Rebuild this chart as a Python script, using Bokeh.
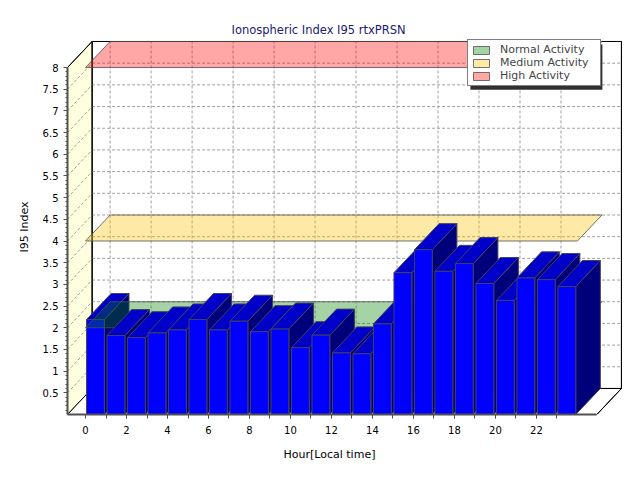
from bokeh.plotting import figure
from bokeh.models import Range1d, FixedTicker, Legend, LegendItem, ColumnDataSource, Title
from bokeh.embed import file_html
from bokeh.resources import INLINE

# ---------------- data ----------------
hours = list(range(24))
i95 = [2.19, 1.82, 1.77, 1.88, 1.95, 2.19, 1.95, 2.15, 1.91, 1.97, 1.54, 1.83,
       1.42, 1.40, 2.09, 3.27, 3.80, 3.30, 3.48, 3.02, 2.63, 3.15, 3.11, 2.95]
level_values = [2.0, 4.0, 8.0]
level_names = ["Normal Activity", "Medium Activity", "High Activity"]
level_colors = ["#008000", "#FFC000", "#FF0000"]
y_ticks = [0.5, 1, 1.5, 2, 2.5, 3, 3.5, 4, 4.5, 5, 5.5, 6, 6.5, 7, 7.5, 8]
y_tick_labels = ["0.5", "1", "1.5", "2", "2.5", "3", "3.5", "4", "4.5", "5",
                 "5.5", "6", "6.5", "7", "7.5", "8"]
x_ticks = [0, 2, 4, 6, 8, 10, 12, 14, 16, 18, 20, 22]
x_tick_labels = ["0", "2", "4", "6", "8", "10", "12", "14", "16", "18", "20", "22"]
title_text = "Ionospheric Index I95 rtxPRSN"
x_title = "Hour[Local time]"
y_title = "I95 Index"

# ---------------- geometry of the pseudo 3D box ----------------
X_MIN, X_MAX = -0.88, 24.95
Y_MAX = 8.0
DX, DY = 1.2, 0.6
PADX, PADY = 0.1, 0.046
B0, B1 = 0.05, 0.92
FONT = "DejaVu Sans"

p = figure(width=624, height=476, output_backend="svg", toolbar_location=None,
           title=None, x_range=Range1d(X_MIN, X_MAX + DX + PADX), y_range=Range1d(0, Y_MAX + DY + PADY),
           min_border_left=67, min_border_right=1, min_border_top=39, min_border_bottom=62)
p.outline_line_color = None
p.xgrid.visible = False
p.ygrid.visible = False
p.background_fill_color = "white"
p.border_fill_color = "white"

# walls
p.patches(xs=[[X_MIN + DX, X_MAX + DX, X_MAX + DX, X_MIN + DX]],
          ys=[[DY, DY, Y_MAX + DY, Y_MAX + DY]],
          fill_color="white", line_color="black", line_width=1)
p.patches(xs=[[X_MIN, X_MIN, X_MIN + DX, X_MIN + DX]],
          ys=[[0, Y_MAX, Y_MAX + DY, DY]],
          fill_color="#FFFFE0", line_color="black", line_width=1)
p.patches(xs=[[X_MIN, X_MAX, X_MAX + DX, X_MIN + DX]],
          ys=[[0, 0, DY, DY]],
          fill_color="white", line_color="black", line_width=1)

# grid lines
gx, gy = [], []
for v in y_ticks:
    gx.append([X_MIN + DX, X_MAX + DX]); gy.append([v + DY, v + DY])
    gx.append([X_MIN, X_MIN + DX]); gy.append([v, v + DY])
for h in x_ticks:
    gx.append([h + DX, h + DX]); gy.append([DY, Y_MAX + DY])
p.multi_line(xs=gx, ys=gy, line_color="#A0A0A0", line_dash="3 2", line_width=1)

# re-stroke wall edges over grid
p.multi_line(xs=[[X_MIN + DX, X_MIN + DX], [X_MIN + DX, X_MAX + DX], [X_MIN, X_MIN + DX],
                 [X_MIN + DX, X_MAX + DX], [X_MAX, X_MAX + DX], [X_MAX + DX, X_MAX + DX]],
             ys=[[DY, Y_MAX + DY], [DY, DY], [Y_MAX, Y_MAX + DY], [Y_MAX + DY, Y_MAX + DY], [0, DY],
                 [DY, Y_MAX + DY]],
             line_color="black", line_width=1)


def plane(v, color):
    return p.patches(xs=[[0, 24, 24 + DX, DX]], ys=[[v, v, v + DY, v + DY]],
                     fill_color=color, fill_alpha=0.35, line_color="#505050",
                     line_alpha=0.8, line_width=1)


def bar_source(idx):
    xs, ys, cols = [], [], []
    for i in idx:
        h, v = hours[i], i95[i]
        x0, x1 = h + B0, h + B1
        xs.append([x1, x1 + DX, x1 + DX, x1]); ys.append([0, DY, v + DY, v]); cols.append("#00007A")
        xs.append([x0, x1, x1 + DX, x0 + DX]); ys.append([v, v, v + DY, v + DY]); cols.append("#0000C8")
        xs.append([x0, x1, x1, x0]); ys.append([0, 0, v, v]); cols.append("#0000FF")
    return ColumnDataSource(dict(xs=xs, ys=ys, c=cols))


r_med = plane(level_values[1], level_colors[1])
r_high = plane(level_values[2], level_colors[2])
p.patches(xs="xs", ys="ys", fill_color="c", line_color="#404060", line_width=1, source=bar_source([0]))
r_norm = plane(level_values[0], level_colors[0])
p.patches(xs="xs", ys="ys", fill_color="c", line_color="#404060", line_width=1,
          source=bar_source(range(1, len(hours))))

# axes
ya = p.yaxis[0]
ya.ticker = FixedTicker(ticks=y_ticks, minor_ticks=[k / 10 for k in range(1, 81)])
ya.major_label_overrides = {t: l for t, l in zip(y_ticks, y_tick_labels)}
ya.bounds = (0, Y_MAX)
ya.axis_label = y_title
ya.axis_label_text_font = FONT
ya.axis_label_text_font_size = "11px"
ya.axis_label_text_font_style = "normal"
ya.axis_label_text_color = "black"
ya.axis_label_standoff = 9
xa = p.xaxis[0]
xa.ticker = FixedTicker(ticks=x_ticks, minor_ticks=list(range(1, 24)))
xa.major_label_overrides = {t: l for t, l in zip(x_ticks, x_tick_labels)}
xa.bounds = (X_MIN, X_MAX)
for ax in (xa, ya):
    ax.axis_line_color = "#505050"
    ax.axis_line_width = 2
    ax.major_tick_line_color = "#505050"
    ax.minor_tick_line_color = "#505050"
    ax.major_tick_in = 0
    ax.minor_tick_in = 0
    ax.major_label_text_font = FONT
    ax.major_label_text_font_size = "10px"
    ax.major_label_text_color = "black"
ya.major_tick_out = 4
ya.minor_tick_out = 2
ya.major_label_standoff = 5
xa.major_tick_out = 4
xa.minor_tick_out = 4
xa.major_label_standoff = 7

# titles
p.add_layout(Title(text=title_text, align="left", offset=164, vertical_align="bottom", standoff=6,
                   text_font=FONT, text_font_size="11.5px", text_font_style="normal",
                   text_color="#1A1A70"), "above")
p.add_layout(Title(text=x_title, align="left", offset=216, vertical_align="top", standoff=22,
                   text_font=FONT, text_font_size="11px", text_font_style="normal",
                   text_color="black"), "below")

# legend shadow + legend
p.quad(left=[18.78], right=[25.22], top=[8.53], bottom=[7.49], fill_color="#303030", line_color=None)
legend = Legend(items=[LegendItem(label=level_names[0], renderers=[r_norm]),
                       LegendItem(label=level_names[1], renderers=[r_med]),
                       LegendItem(label=level_names[2], renderers=[r_high])],
                location=(400, 328), orientation="vertical",
                glyph_width=20, glyph_height=10, label_height=12, label_width=97, label_standoff=9,
                padding=3, spacing=0, margin=0,
                label_text_font=FONT, label_text_font_size="11px",
                border_line_color="black", border_line_width=1,
                background_fill_color="white", background_fill_alpha=1.0)
p.add_layout(legend, "center")

open("out.html", "w").write(file_html(p, INLINE))
